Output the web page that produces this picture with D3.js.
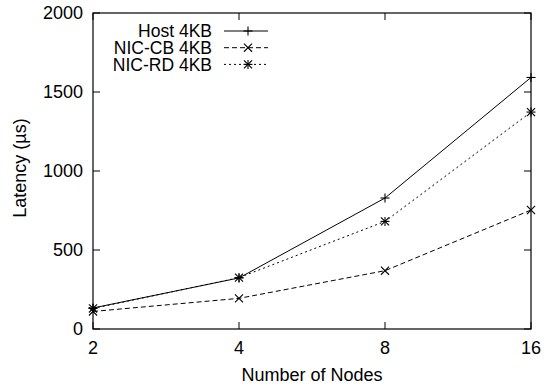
<!DOCTYPE html>
<html>
<head>
<meta charset="utf-8">
<script src="https://cdn.jsdelivr.net/npm/d3@7"></script>
<style>
  body { margin: 0; background: #fff; }
  svg text { font-family: "Liberation Sans", Arial, sans-serif; fill: #000; }
</style>
</head>
<body>
<div id="chart"></div>
<script>
const nodes = [2, 4, 8, 16];
const hostLatency = [133, 323, 829, 1592];
const nicCbLatency = [111, 194, 369, 753];
const nicRdLatency = [130, 325, 681, 1373];
const seriesNames = ["Host 4KB", "NIC-CB 4KB", "NIC-RD 4KB"];
const yTicks = [0, 500, 1000, 1500, 2000];

const width = 545, height = 390;
const margin = { top: 13, right: 14, bottom: 61, left: 93 };
const plotW = width - margin.left - margin.right;
const plotH = height - margin.top - margin.bottom;

const svg = d3.select("#chart").append("svg")
  .attr("width", width)
  .attr("height", height);

const g = svg.append("g")
  .attr("transform", `translate(${margin.left},${margin.top})`);

const x = d3.scaleLog().base(2).domain([2, 16]).range([0, plotW]);
const y = d3.scaleLinear().domain([0, 2000]).range([plotH, 0]);

// frame
g.append("rect")
  .attr("width", plotW).attr("height", plotH)
  .attr("fill", "none").attr("stroke", "#000").attr("stroke-width", 1.2);

// ticks (inward, mirrored)
const tickLen = 7;
yTicks.forEach(t => {
  g.append("line").attr("x1", 0).attr("x2", tickLen).attr("y1", y(t)).attr("y2", y(t)).attr("stroke", "#000");
  g.append("line").attr("x1", plotW).attr("x2", plotW - tickLen).attr("y1", y(t)).attr("y2", y(t)).attr("stroke", "#000");
  g.append("text").attr("x", -10).attr("y", y(t)).attr("dy", "0.35em")
    .attr("text-anchor", "end").style("font-size", "18px").text(t);
});
nodes.forEach(n => {
  g.append("line").attr("x1", x(n)).attr("x2", x(n)).attr("y1", plotH).attr("y2", plotH - tickLen).attr("stroke", "#000");
  g.append("line").attr("x1", x(n)).attr("x2", x(n)).attr("y1", 0).attr("y2", tickLen).attr("stroke", "#000");
  g.append("text").attr("x", x(n)).attr("y", plotH + 19).attr("dy", "0.35em")
    .attr("text-anchor", "middle").style("font-size", "18px").text(n);
});

// axis labels
svg.append("text")
  .attr("x", margin.left + plotW / 2).attr("y", 381)
  .attr("text-anchor", "middle").style("font-size", "18px")
  .text("Number of Nodes");
svg.append("text")
  .attr("transform", `translate(26,${margin.top + plotH / 2 - 3}) rotate(-90)`)
  .attr("text-anchor", "middle").style("font-size", "18px")
  .text("Latency (µs)");

// markers
const ms = 4.5;
function drawMarker(sel, type, cx, cy) {
  const m = sel.append("g").attr("transform", `translate(${cx},${cy})`)
    .attr("stroke", "#000").attr("stroke-width", 1.1);
  if (type === "plus" || type === "star") {
    m.append("line").attr("x1", -ms).attr("x2", ms).attr("y1", 0).attr("y2", 0);
    m.append("line").attr("x1", 0).attr("x2", 0).attr("y1", -ms).attr("y2", ms);
  }
  if (type === "cross" || type === "star") {
    const d = ms * 0.9;
    m.append("line").attr("x1", -d).attr("x2", d).attr("y1", -d).attr("y2", d);
    m.append("line").attr("x1", -d).attr("x2", d).attr("y1", d).attr("y2", -d);
  }
}

const series = [
  { name: seriesNames[0], values: hostLatency, dash: null, marker: "plus" },
  { name: seriesNames[1], values: nicCbLatency, dash: "5,3", marker: "cross" },
  { name: seriesNames[2], values: nicRdLatency, dash: "2,3", marker: "star" }
];

const line = d3.line().x(d => x(d[0])).y(d => y(d[1]));

series.forEach(s => {
  const pts = nodes.map((n, i) => [n, s.values[i]]);
  g.append("path").datum(pts)
    .attr("d", line)
    .attr("fill", "none").attr("stroke", "#000").attr("stroke-width", 1)
    .attr("stroke-dasharray", s.dash);
  pts.forEach(p => drawMarker(g, s.marker, x(p[0]), y(p[1])));
});

// legend
const legend = svg.append("g");
series.forEach((s, i) => {
  const ly = 31 + i * 16.7;
  legend.append("text").attr("x", 212).attr("y", ly).attr("dy", "0.35em")
    .attr("text-anchor", "end").style("font-size", "17.5px").text(s.name);
  legend.append("line").attr("x1", 224).attr("x2", 268).attr("y1", ly).attr("y2", ly)
    .attr("stroke", "#000").attr("stroke-width", 1).attr("stroke-dasharray", s.dash);
  drawMarker(legend, s.marker, 248, ly);
});
</script>
</body>
</html>
